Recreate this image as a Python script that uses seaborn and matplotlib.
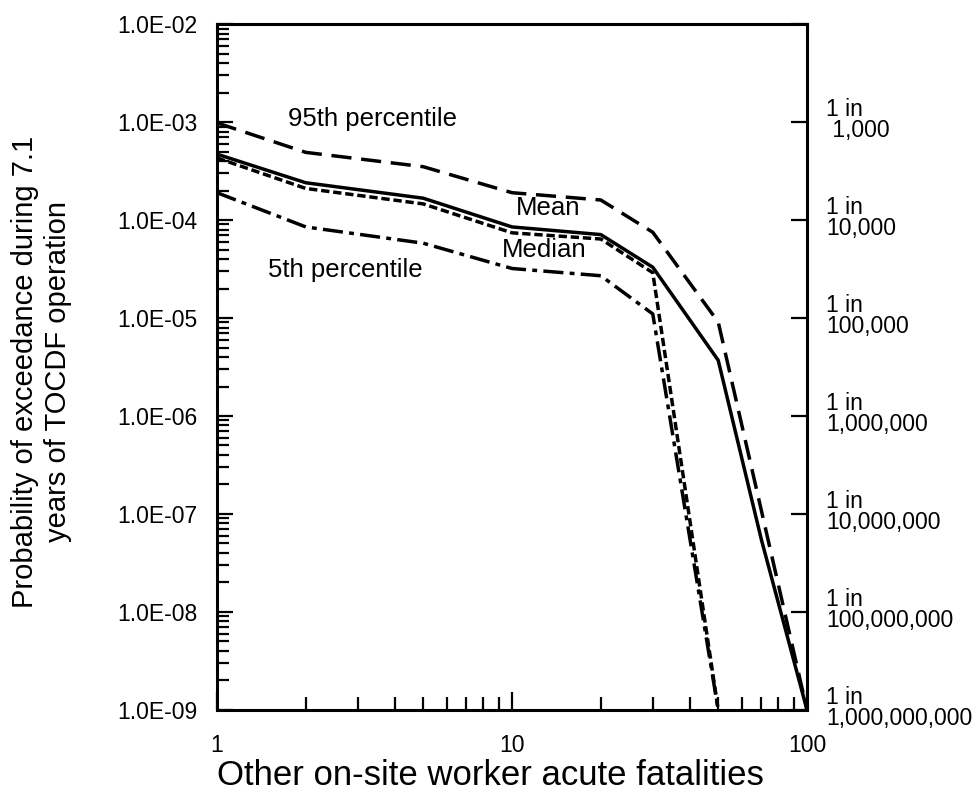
import numpy as np
import pandas as pd
import matplotlib
matplotlib.use("Agg")
import matplotlib.pyplot as plt
from matplotlib.ticker import LogLocator, NullFormatter
import seaborn as sns

# Exceedance curves (fatalities vs probability)
x_mean = [1, 2, 5, 10, 20, 30, 50, 70, 100]
mean_vals = [4.7e-4, 2.4e-4, 1.67e-4, 8.5e-5, 7.1e-5, 3.3e-5, 3.7e-6, 5.5e-8, 1e-9]

x_p95 = [1, 2, 5, 10, 20, 30, 50, 100]
p95_vals = [9.8e-4, 4.9e-4, 3.5e-4, 1.9e-4, 1.6e-4, 7.5e-5, 9.1e-6, 1e-9]

x_median = [1, 2, 5, 10, 20, 30, 50]
median_vals = [4.3e-4, 2.1e-4, 1.46e-4, 7.4e-5, 6.4e-5, 2.9e-5, 1e-9]

x_p05 = [1, 2, 5, 10, 20, 30, 50]
p05_vals = [1.9e-4, 8.5e-5, 5.8e-5, 3.2e-5, 2.7e-5, 1.1e-5, 1e-9]

y_ticks = [1e-2, 1e-3, 1e-4, 1e-5, 1e-6, 1e-7, 1e-8, 1e-9]
y_tick_labels = ["1.0E-02", "1.0E-03", "1.0E-04", "1.0E-05",
                 "1.0E-06", "1.0E-07", "1.0E-08", "1.0E-09"]
odds_labels = ["1 in\n 1,000", "1 in\n10,000", "1 in\n100,000", "1 in\n1,000,000",
               "1 in\n10,000,000", "1 in\n100,000,000", "1 in\n1,000,000,000"]
odds_values = [1e-3, 1e-4, 1e-5, 1e-6, 1e-7, 1e-8, 1e-9]
x_ticks = [1, 10, 100]
x_tick_labels = ["1", "10", "100"]

series = {
    "95th percentile": (x_p95, p95_vals),
    "Mean": (x_mean, mean_vals),
    "Median": (x_median, median_vals),
    "5th percentile": (x_p05, p05_vals),
}
df = pd.concat(
    [pd.DataFrame({"x": xs, "p": ps, "series": name}) for name, (xs, ps) in series.items()],
    ignore_index=True,
)

sns.set_style("ticks")
plt.rcParams["font.family"] = ["Liberation Sans", "DejaVu Sans"]
plt.rcParams["text.color"] = "black"
plt.rcParams["axes.labelcolor"] = "black"
plt.rcParams["xtick.color"] = "black"
plt.rcParams["ytick.color"] = "black"

fig = plt.figure(figsize=(9.8, 8.09), dpi=100)
ax = fig.add_axes([0.2214, 0.1224, 0.6021, 0.8479])

dash_styles = {
    "95th percentile": (5.8, 2.8),
    "Mean": "",
    "Median": (2.4, 1.1),
    "5th percentile": (5.8, 1.8, 1.4, 1.8),
}
sns.lineplot(data=df, x="x", y="p", style="series", dashes=dash_styles,
             color="black", linewidth=2.5, estimator=None, sort=False,
             legend=False, ax=ax)

ax.set_xscale("log")
ax.set_yscale("log")
ax.set_xlim(1, 100)
ax.set_ylim(1e-9, 1e-2)

ax.set_yticks(y_ticks)
ax.set_yticklabels(y_tick_labels)
ax.set_xticks(x_ticks)
ax.set_xticklabels(x_tick_labels)
ax.yaxis.set_minor_locator(LogLocator(base=10, subs=np.arange(2, 10), numticks=20))
ax.xaxis.set_minor_locator(LogLocator(base=10, subs=np.arange(2, 10), numticks=20))
ax.yaxis.set_minor_formatter(NullFormatter())
ax.xaxis.set_minor_formatter(NullFormatter())

for s in ax.spines.values():
    s.set_linewidth(2.2)
    s.set_color("black")

ax.tick_params(axis="y", which="major", direction="in", length=11.5, width=1.6,
               left=True, right=True, labelsize=16.5, pad=14, colors="black")
ax.tick_params(axis="y", which="minor", direction="in", length=8.5, width=1.6,
               left=True, right=False)
ax.tick_params(axis="x", which="major", direction="in", length=13, width=1.6,
               bottom=True, top=False, labelsize=16.5, pad=17, colors="black")
ax.tick_params(axis="x", which="minor", direction="in", length=9.4, width=1.6,
               bottom=True, top=False)

ax.set_xlabel("Other on-site worker acute fatalities", fontsize=25, color="black")
ax.xaxis.set_label_coords(0.464, -0.072)
ax.set_ylabel("Probability of exceedance during 7.1\nyears of TOCDF operation",
              fontsize=21, color="black")
ax.yaxis.set_label_coords(-0.246, 0.493)

# Odds scale along the right edge
for val, lab in zip(odds_values, odds_labels):
    ax.annotate(lab, xy=(1, val), xycoords=("axes fraction", "data"),
                xytext=(14, 1.5), textcoords="offset points",
                ha="left", va="center", fontsize=16.5, linespacing=0.88,
                color="black", annotation_clip=False)

# Curve labels
ax.text(1.74, 1.07e-3, "95th percentile", fontsize=18.5, ha="left", va="center", color="black")
ax.text(13.3, 1.32e-4, "Mean", fontsize=18.5, ha="center", va="center", color="black")
ax.text(12.9, 4.9e-5, "Median", fontsize=18.5, ha="center", va="center", color="black")
ax.text(1.49, 3.1e-5, "5th percentile", fontsize=18.5, ha="left", va="center", color="black")

fig.savefig("out.png", dpi=100, facecolor="white")
